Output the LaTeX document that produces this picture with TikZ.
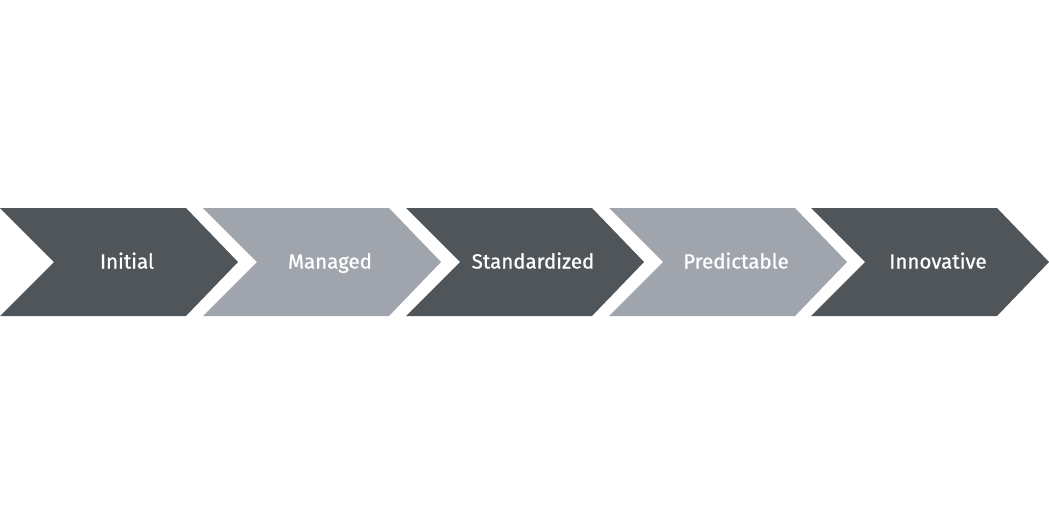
\documentclass[tikz,border=0pt]{standalone}
\usepackage{fontspec}
\setmainfont{Fira Sans}
\definecolor{darkstep}{HTML}{50555A}
\definecolor{lightstep}{HTML}{A0A4AD}
\newcommand{\chevron}[4] % {x0}{color}{name}{label}
{
 \fill[#2] (#1,208) -- ++(186,0) -- ++(52,54) -- ++(-52,54)
   -- ++(-186,0) -- ++(54,-54) -- cycle;
 \node[steplabel] (#3) at ({#1+127},268.5) {#4};
}
\begin{document}
\begin{tikzpicture}[x=1pt,y=-1pt,
  steplabel/.style={text=white,anchor=base,inner sep=0pt,
    font=\fontsize{20.5}{24}\selectfont\addfontfeature{FakeBold=0.8}}]

\useasboundingbox (0,0) rectangle (1049,525);

\chevron{0}{darkstep}{initial}{Initial}
\chevron{203}{lightstep}{managed}{Managed}
\chevron{406}{darkstep}{standardized}{Standardized}
\chevron{609}{lightstep}{predictable}{Predictable}
\chevron{811}{darkstep}{innovative}{Innovative}

\end{tikzpicture}
\end{document}
